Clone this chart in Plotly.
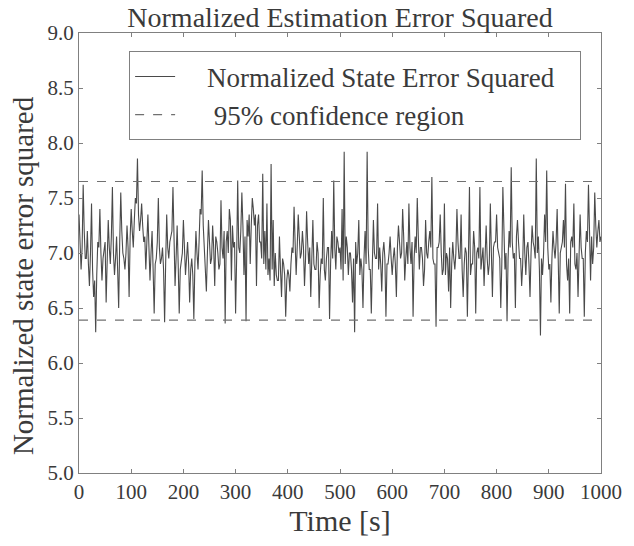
import plotly.graph_objects as go

# Samples every 4 s (t = 0, 4, ..., 1000): normalized state error squared
nees_part1 = [7.35, 6.85, 7.62, 6.95, 7.20, 6.70, 7.45, 6.60, 6.28, 7.10,
              7.40, 6.75, 7.05, 6.55, 7.30, 6.90, 7.60, 6.80, 7.15, 6.50,
              7.55, 7.00, 6.85, 7.25, 6.60, 7.40, 7.05, 7.50, 7.86, 7.20,
              7.45, 7.10, 6.85, 7.35, 6.75, 7.20, 6.45, 6.95, 7.50, 6.90,
              7.05, 6.37, 7.35, 6.95, 7.15, 7.60, 6.70, 7.25, 6.45, 6.95,
              7.30, 6.80, 7.10, 6.55, 6.95, 6.40, 7.20, 6.85, 7.40, 7.75,
              7.05, 6.65, 7.30]
nees_part2 = [6.90, 7.25, 6.70, 7.10, 6.85, 7.48, 6.95, 6.36, 7.20, 7.40,
              6.75, 7.05, 6.45, 7.66, 7.00, 7.55, 6.80, 6.38, 7.15, 6.90,
              7.50, 7.25, 6.70, 7.35, 7.10, 7.72, 7.20, 7.45, 6.95, 7.81,
              7.30, 7.00, 6.75, 7.15, 6.60, 6.90, 6.42, 6.85, 6.65, 7.05,
              7.42, 6.80, 7.35, 6.95, 7.20, 6.70, 7.38, 6.90, 6.60, 7.30,
              6.85, 7.10, 6.50, 6.95, 7.50, 6.75, 7.05, 6.40, 7.20, 7.66,
              6.85, 7.10]
nees_part3 = [7.05, 7.40, 7.92, 7.15, 6.80, 7.00, 6.55, 6.28, 6.90, 7.30,
              6.95, 6.50, 7.20, 7.92, 6.85, 6.45, 7.30, 6.95, 7.45, 7.05,
              6.65, 7.10, 6.42, 6.90, 7.15, 6.80, 7.05, 6.60, 7.25, 6.95,
              7.40, 6.75, 7.10, 7.45, 6.90, 6.42, 7.15, 7.50, 6.85, 7.05,
              6.70, 7.30, 6.95, 7.20, 7.69, 6.90, 6.33, 7.05, 7.35, 6.80,
              7.45, 7.00, 6.65, 6.50, 7.10, 6.85, 7.40, 6.95, 7.35, 6.60,
              7.05, 6.42, 7.60]
nees_part4 = [6.90, 7.20, 6.45, 7.05, 7.60, 6.95, 6.70, 7.25, 6.80, 7.45,
              6.60, 7.10, 7.35, 7.00, 6.50, 7.60, 6.85, 6.38, 7.20, 7.78,
              6.95, 6.50, 7.30, 6.95, 6.70, 7.35, 6.80, 7.10, 6.60, 7.25,
              7.05, 7.86, 7.15, 6.25, 6.80, 7.35, 7.75, 6.85, 6.55, 7.20,
              6.95, 7.40, 6.45, 7.05, 7.30, 7.63, 6.75, 6.45, 7.15, 7.45,
              6.85, 6.60, 7.35, 6.95, 6.42, 7.20, 7.62, 6.75, 6.90, 7.55,
              7.05, 7.30, 7.15]

# Samples in between (t = 2, 6, ..., 998): the darker core of the band
nees_mid_a = [7.10, 7.05, 7.20, 6.95, 6.90, 7.00, 6.85, 6.75, 6.80, 7.05,
              7.00, 6.95, 7.10, 6.90, 7.05, 7.15, 7.00, 6.95, 6.85, 7.10,
              7.20, 6.95, 7.00, 7.05, 7.15, 7.20, 7.30, 7.45, 7.35, 7.30,
              7.25, 7.15, 7.10, 7.05, 7.00, 6.85, 6.90, 7.10, 7.05, 6.95,
              6.85, 6.90, 7.05, 7.10, 7.20, 7.05, 6.95, 6.90, 6.85, 7.00]
nees_mid_b = [7.00, 6.95, 6.90, 6.85, 6.80, 6.90, 7.00, 7.10, 7.35, 7.25,
              6.95, 7.00, 7.10, 6.95, 7.05, 7.15, 7.00, 6.90, 7.05, 7.20,
              7.10, 7.00, 7.30, 7.25, 7.10, 6.95, 7.05, 7.20, 7.25, 7.15,
              7.30, 7.35, 7.25, 7.40, 7.35, 7.25, 7.10, 6.95, 6.90, 6.85,
              6.80, 6.75, 6.85, 6.70, 6.80, 6.75, 6.85, 6.95, 6.80, 6.75]
nees_mid_c = [6.80, 6.90, 7.00, 7.10, 7.05, 7.15, 7.00, 7.05, 6.95, 7.10,
              7.05, 6.95, 6.90, 6.85, 7.00, 6.80, 6.90, 6.85, 6.95, 7.05,
              6.90, 6.95, 7.05, 7.15, 7.00, 6.85, 6.75, 6.90, 7.05, 7.00,
              6.85, 6.95, 7.10, 7.00, 6.80, 6.85, 6.95, 6.90, 7.05, 6.85,
              6.90, 7.00, 6.95, 6.85, 6.90, 7.00, 6.95, 6.90, 7.00, 6.95]
nees_mid_d = [6.95, 6.90, 7.05, 7.10, 7.00, 7.15, 6.95, 6.90, 7.05, 7.10,
              6.95, 7.00, 7.15, 7.05, 6.95, 6.85, 7.00, 7.10, 7.05, 6.95,
              6.90, 7.05, 7.10, 7.00, 6.85, 6.80, 6.95, 7.05, 6.90, 6.95,
              7.00, 7.10, 6.95, 6.85, 6.90, 7.00, 6.95, 6.80, 6.90, 7.05,
              7.00, 6.95, 6.85, 7.05, 7.10, 6.95, 6.90, 7.00, 7.05, 7.10]
nees_mid_e = [7.05, 6.95, 6.90, 7.10, 7.00, 6.95, 7.05, 7.10, 7.00, 7.15,
              7.10, 6.95, 6.90, 7.00, 7.05, 6.90, 7.00, 7.10, 6.95, 7.00,
              6.85, 6.95, 7.00, 7.10, 7.05, 6.90, 6.95, 7.05, 7.10, 6.95,
              7.00, 7.10, 7.05, 6.90, 6.95, 7.10, 7.05, 6.90, 7.00, 7.15,
              7.05, 6.95, 7.00, 7.10, 7.20, 7.15, 7.05, 7.25, 7.20, 7.10]

conf_lower = 6.39
conf_upper = 7.65
conf_x = [0, 1000]

x_ticks = [0, 100, 200, 300, 400, 500, 600, 700, 800, 900, 1000]
y_ticks = [5.0, 5.5, 6.0, 6.5, 7.0, 7.5, 8.0, 8.5, 9.0]

# Merge the two sampling grids into one time series (t = 0, 2, 4, ..., 1000)
main_vals = nees_part1 + nees_part2 + nees_part3 + nees_part4
mid_vals = nees_mid_a + nees_mid_b + nees_mid_c + nees_mid_d + nees_mid_e
time_s, nees = [], []
for i, v in enumerate(main_vals):
    time_s.append(4 * i)
    nees.append(v)
    if i < len(mid_vals):
        time_s.append(4 * i + 2)
        nees.append(mid_vals[i])

FONT = "Liberation Serif"
TXT = "#3a3a3a"
AX = "#808080"
NB = "\u00a0"

fig = go.Figure()
fig.add_trace(go.Scatter(
    x=time_s, y=nees, mode="lines",
    line=dict(color="#4a4a4a", width=1.1),
    name=NB * 4 + "Normalized State Error Squared" + NB * 3))
fig.add_trace(go.Scatter(
    x=conf_x, y=[conf_upper, conf_upper], mode="lines",
    line=dict(color="#707070", width=1.2, dash="dash"),
    name=NB * 5 + "95% confidence region"))
fig.add_trace(go.Scatter(
    x=conf_x, y=[conf_lower, conf_lower], mode="lines",
    line=dict(color="#707070", width=1.2, dash="dash"),
    name="95% confidence region", showlegend=False))

axis_common = dict(
    showgrid=False, zeroline=False, showline=True, linecolor=AX, linewidth=1,
    mirror="allticks", ticks="inside", ticklen=4, tickcolor=AX,
    tickfont=dict(family=FONT, size=21, color=TXT),
)
fig.update_xaxes(range=[0, 1000], tickvals=x_ticks,
                 ticktext=[str(v) for v in x_ticks],
                 title=dict(text="Time [s]", font=dict(family=FONT, size=30, color=TXT), standoff=2),
                 **axis_common)
fig.update_yaxes(range=[5.0, 9.0], tickvals=y_ticks,
                 ticktext=[f"{v:.1f}" for v in y_ticks],
                 **axis_common)

fig.update_layout(
    width=634, height=546,
    margin=dict(l=79, r=23, t=33, b=73),
    paper_bgcolor="white", plot_bgcolor="white",
    font=dict(family=FONT, color=TXT),
    title=dict(text="Normalized Estimation Error Squared",
               font=dict(family=FONT, size=28, color=TXT),
               x=0.5, xref="paper", xanchor="center",
               y=1 - 17 / 546, yref="container", yanchor="middle"),
    legend=dict(x=0.096, y=0.958, xanchor="left", yanchor="top",
                bgcolor="white", bordercolor=AX, borderwidth=1,
                font=dict(family=FONT, size=27, color=TXT),
                itemwidth=40, tracegroupgap=0),
    showlegend=True,
    annotations=[dict(text="Normalized state error squared", textangle=-90,
                      xref="paper", yref="paper", x=-57 / 532, y=(473 - 276) / 440,
                      xanchor="center", yanchor="middle", showarrow=False,
                      font=dict(family=FONT, size=29, color=TXT))],
)

fig.write_html("out.html")
